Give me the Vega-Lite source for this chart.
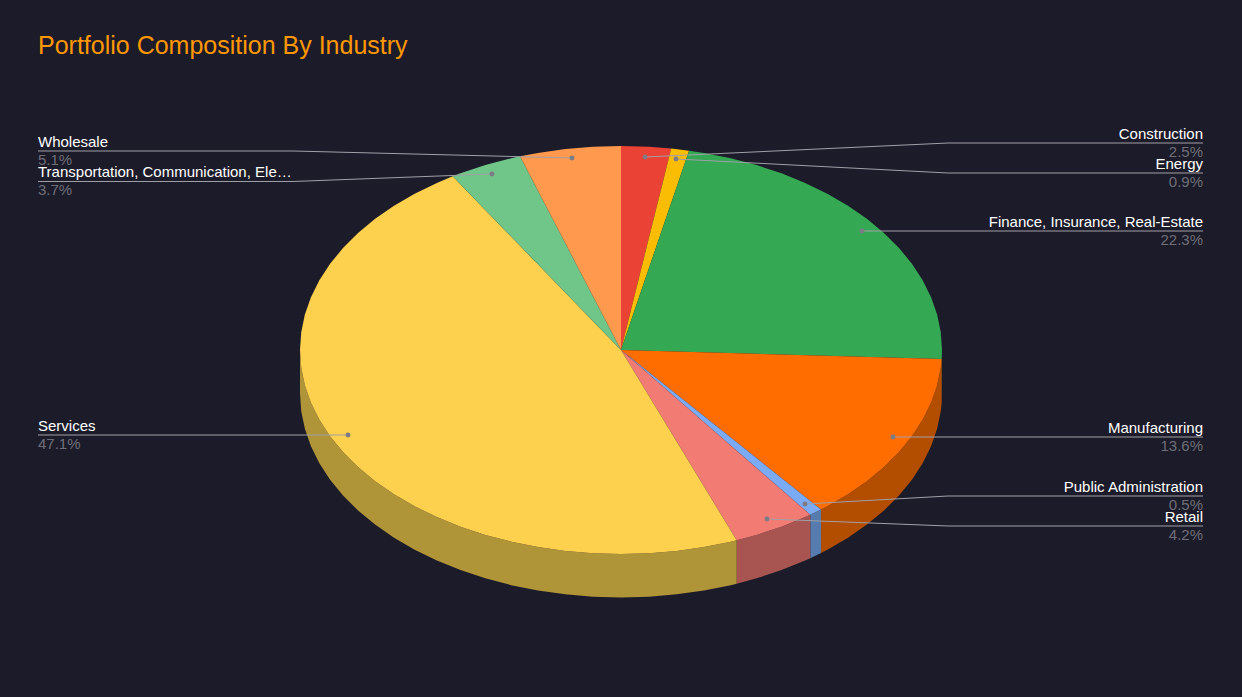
{"$schema":"https://vega.github.io/schema/vega-lite/v6.json","width":1242,"height":697,"padding":0,"autosize":"none","background":"#1c1b29","config":{"view":{"stroke":null}},"title":{"text":"Portfolio Composition By Industry","anchor":"start","frame":"group","orient":"top","offset":-79,"dx":38,"font":"Liberation Sans","fontSize":25,"fontWeight":"normal","color":"#ff9800","baseline":"alphabetic"},
"datasets":{
"tops":[
{"industry":"Construction","i":0,"x":0,"y":0},{"industry":"Construction","i":1,"x":0,"y":1},{"industry":"Construction","i":2,"x":0.0872,"y":0.9962},{"industry":"Construction","i":3,"x":0.1564,"y":0.9877},
{"industry":"Energy","i":0,"x":0,"y":0},{"industry":"Energy","i":1,"x":0.1564,"y":0.9877},{"industry":"Energy","i":2,"x":0.212,"y":0.9773},
{"industry":"Finance, Insurance, Real-Estate","i":0,"x":0,"y":0},{"industry":"Finance, Insurance, Real-Estate","i":1,"x":0.212,"y":0.9773},{"industry":"Finance, Insurance, Real-Estate","i":2,"x":0.2588,"y":0.9659},{"industry":"Finance, Insurance, Real-Estate","i":3,"x":0.342,"y":0.9397},{"industry":"Finance, Insurance, Real-Estate","i":4,"x":0.4226,"y":0.9063},{"industry":"Finance, Insurance, Real-Estate","i":5,"x":0.5,"y":0.866},{"industry":"Finance, Insurance, Real-Estate","i":6,"x":0.5736,"y":0.8192},{"industry":"Finance, Insurance, Real-Estate","i":7,"x":0.6428,"y":0.766},{"industry":"Finance, Insurance, Real-Estate","i":8,"x":0.7071,"y":0.7071},{"industry":"Finance, Insurance, Real-Estate","i":9,"x":0.766,"y":0.6428},{"industry":"Finance, Insurance, Real-Estate","i":10,"x":0.8192,"y":0.5736},{"industry":"Finance, Insurance, Real-Estate","i":11,"x":0.866,"y":0.5},{"industry":"Finance, Insurance, Real-Estate","i":12,"x":0.9063,"y":0.4226},{"industry":"Finance, Insurance, Real-Estate","i":13,"x":0.9397,"y":0.342},{"industry":"Finance, Insurance, Real-Estate","i":14,"x":0.9659,"y":0.2588},{"industry":"Finance, Insurance, Real-Estate","i":15,"x":0.9848,"y":0.1736},{"industry":"Finance, Insurance, Real-Estate","i":16,"x":0.9962,"y":0.0872},{"industry":"Finance, Insurance, Real-Estate","i":17,"x":1,"y":0},{"industry":"Finance, Insurance, Real-Estate","i":18,"x":0.999,"y":-0.044},
{"industry":"Manufacturing","i":0,"x":0,"y":0},{"industry":"Manufacturing","i":1,"x":0.999,"y":-0.044},{"industry":"Manufacturing","i":2,"x":0.9962,"y":-0.0872},{"industry":"Manufacturing","i":3,"x":0.9848,"y":-0.1736},{"industry":"Manufacturing","i":4,"x":0.9659,"y":-0.2588},{"industry":"Manufacturing","i":5,"x":0.9397,"y":-0.342},{"industry":"Manufacturing","i":6,"x":0.9063,"y":-0.4226},{"industry":"Manufacturing","i":7,"x":0.866,"y":-0.5},{"industry":"Manufacturing","i":8,"x":0.8192,"y":-0.5736},{"industry":"Manufacturing","i":9,"x":0.766,"y":-0.6428},{"industry":"Manufacturing","i":10,"x":0.7071,"y":-0.7071},{"industry":"Manufacturing","i":11,"x":0.6428,"y":-0.766},{"industry":"Manufacturing","i":12,"x":0.6231,"y":-0.7821},
{"industry":"Public Administration","i":0,"x":0,"y":0},{"industry":"Public Administration","i":1,"x":0.6231,"y":-0.7821},{"industry":"Public Administration","i":2,"x":0.5897,"y":-0.8076},
{"industry":"Retail","i":0,"x":0,"y":0},{"industry":"Retail","i":1,"x":0.5897,"y":-0.8076},{"industry":"Retail","i":2,"x":0.5736,"y":-0.8192},{"industry":"Retail","i":3,"x":0.5,"y":-0.866},{"industry":"Retail","i":4,"x":0.4226,"y":-0.9063},{"industry":"Retail","i":5,"x":0.3604,"y":-0.9328},
{"industry":"Services","i":0,"x":0,"y":0},{"industry":"Services","i":1,"x":0.3604,"y":-0.9328},{"industry":"Services","i":2,"x":0.342,"y":-0.9397},{"industry":"Services","i":3,"x":0.2588,"y":-0.9659},{"industry":"Services","i":4,"x":0.1736,"y":-0.9848},{"industry":"Services","i":5,"x":0.0872,"y":-0.9962},{"industry":"Services","i":6,"x":0,"y":-1},{"industry":"Services","i":7,"x":-0.0872,"y":-0.9962},{"industry":"Services","i":8,"x":-0.1736,"y":-0.9848},{"industry":"Services","i":9,"x":-0.2588,"y":-0.9659},{"industry":"Services","i":10,"x":-0.342,"y":-0.9397},{"industry":"Services","i":11,"x":-0.4226,"y":-0.9063},{"industry":"Services","i":12,"x":-0.5,"y":-0.866},{"industry":"Services","i":13,"x":-0.5736,"y":-0.8192},{"industry":"Services","i":14,"x":-0.6428,"y":-0.766},{"industry":"Services","i":15,"x":-0.7071,"y":-0.7071},{"industry":"Services","i":16,"x":-0.766,"y":-0.6428},{"industry":"Services","i":17,"x":-0.8192,"y":-0.5736},{"industry":"Services","i":18,"x":-0.866,"y":-0.5},{"industry":"Services","i":19,"x":-0.9063,"y":-0.4226},{"industry":"Services","i":20,"x":-0.9397,"y":-0.342},{"industry":"Services","i":21,"x":-0.9659,"y":-0.2588},{"industry":"Services","i":22,"x":-0.9848,"y":-0.1736},{"industry":"Services","i":23,"x":-0.9962,"y":-0.0872},{"industry":"Services","i":24,"x":-1,"y":0},{"industry":"Services","i":25,"x":-0.9962,"y":0.0872},{"industry":"Services","i":26,"x":-0.9848,"y":0.1736},{"industry":"Services","i":27,"x":-0.9659,"y":0.2588},{"industry":"Services","i":28,"x":-0.9397,"y":0.342},{"industry":"Services","i":29,"x":-0.9063,"y":0.4226},{"industry":"Services","i":30,"x":-0.866,"y":0.5},{"industry":"Services","i":31,"x":-0.8192,"y":0.5736},{"industry":"Services","i":32,"x":-0.766,"y":0.6428},{"industry":"Services","i":33,"x":-0.7071,"y":0.7071},{"industry":"Services","i":34,"x":-0.6428,"y":0.766},{"industry":"Services","i":35,"x":-0.5736,"y":0.8192},{"industry":"Services","i":36,"x":-0.5243,"y":0.8515},
{"industry":"Transportation, Communication, Ele…","i":0,"x":0,"y":0},{"industry":"Transportation, Communication, Ele…","i":1,"x":-0.5243,"y":0.8515},{"industry":"Transportation, Communication, Ele…","i":2,"x":-0.5,"y":0.866},{"industry":"Transportation, Communication, Ele…","i":3,"x":-0.4226,"y":0.9063},{"industry":"Transportation, Communication, Ele…","i":4,"x":-0.342,"y":0.9397},{"industry":"Transportation, Communication, Ele…","i":5,"x":-0.3146,"y":0.9492},
{"industry":"Wholesale","i":0,"x":0,"y":0},{"industry":"Wholesale","i":1,"x":-0.3146,"y":0.9492},{"industry":"Wholesale","i":2,"x":-0.2588,"y":0.9659},{"industry":"Wholesale","i":3,"x":-0.1736,"y":0.9848},{"industry":"Wholesale","i":4,"x":-0.0872,"y":0.9962},{"industry":"Wholesale","i":5,"x":0,"y":1}
],
"walls":[
{"industry":"Finance, Insurance, Real-Estate","i":0,"x":1,"y":0},{"industry":"Finance, Insurance, Real-Estate","i":1,"x":0.999,"y":-0.044},{"industry":"Finance, Insurance, Real-Estate","i":2,"x":0.999,"y":-0.257},{"industry":"Finance, Insurance, Real-Estate","i":3,"x":1,"y":-0.213},
{"industry":"Manufacturing","i":0,"x":0.999,"y":-0.044},{"industry":"Manufacturing","i":1,"x":0.9962,"y":-0.0872},{"industry":"Manufacturing","i":2,"x":0.9848,"y":-0.1736},{"industry":"Manufacturing","i":3,"x":0.9659,"y":-0.2588},{"industry":"Manufacturing","i":4,"x":0.9397,"y":-0.342},{"industry":"Manufacturing","i":5,"x":0.9063,"y":-0.4226},{"industry":"Manufacturing","i":6,"x":0.866,"y":-0.5},{"industry":"Manufacturing","i":7,"x":0.8192,"y":-0.5736},{"industry":"Manufacturing","i":8,"x":0.766,"y":-0.6428},{"industry":"Manufacturing","i":9,"x":0.7071,"y":-0.7071},{"industry":"Manufacturing","i":10,"x":0.6428,"y":-0.766},{"industry":"Manufacturing","i":11,"x":0.6231,"y":-0.7821},{"industry":"Manufacturing","i":12,"x":0.6231,"y":-0.9951},{"industry":"Manufacturing","i":13,"x":0.6428,"y":-0.979},{"industry":"Manufacturing","i":14,"x":0.7071,"y":-0.9201},{"industry":"Manufacturing","i":15,"x":0.766,"y":-0.8558},{"industry":"Manufacturing","i":16,"x":0.8192,"y":-0.7866},{"industry":"Manufacturing","i":17,"x":0.866,"y":-0.713},{"industry":"Manufacturing","i":18,"x":0.9063,"y":-0.6356},{"industry":"Manufacturing","i":19,"x":0.9397,"y":-0.555},{"industry":"Manufacturing","i":20,"x":0.9659,"y":-0.4718},{"industry":"Manufacturing","i":21,"x":0.9848,"y":-0.3866},{"industry":"Manufacturing","i":22,"x":0.9962,"y":-0.3002},{"industry":"Manufacturing","i":23,"x":0.999,"y":-0.257},
{"industry":"Public Administration","i":0,"x":0.6231,"y":-0.7821},{"industry":"Public Administration","i":1,"x":0.5897,"y":-0.8076},{"industry":"Public Administration","i":2,"x":0.5897,"y":-1.0206},{"industry":"Public Administration","i":3,"x":0.6231,"y":-0.9951},
{"industry":"Retail","i":0,"x":0.5897,"y":-0.8076},{"industry":"Retail","i":1,"x":0.5736,"y":-0.8192},{"industry":"Retail","i":2,"x":0.5,"y":-0.866},{"industry":"Retail","i":3,"x":0.4226,"y":-0.9063},{"industry":"Retail","i":4,"x":0.3604,"y":-0.9328},{"industry":"Retail","i":5,"x":0.3604,"y":-1.1458},{"industry":"Retail","i":6,"x":0.4226,"y":-1.1193},{"industry":"Retail","i":7,"x":0.5,"y":-1.079},{"industry":"Retail","i":8,"x":0.5736,"y":-1.0322},{"industry":"Retail","i":9,"x":0.5897,"y":-1.0206},
{"industry":"Services","i":0,"x":0.3604,"y":-0.9328},{"industry":"Services","i":1,"x":0.342,"y":-0.9397},{"industry":"Services","i":2,"x":0.2588,"y":-0.9659},{"industry":"Services","i":3,"x":0.1736,"y":-0.9848},{"industry":"Services","i":4,"x":0.0872,"y":-0.9962},{"industry":"Services","i":5,"x":0,"y":-1},{"industry":"Services","i":6,"x":-0.0872,"y":-0.9962},{"industry":"Services","i":7,"x":-0.1736,"y":-0.9848},{"industry":"Services","i":8,"x":-0.2588,"y":-0.9659},{"industry":"Services","i":9,"x":-0.342,"y":-0.9397},{"industry":"Services","i":10,"x":-0.4226,"y":-0.9063},{"industry":"Services","i":11,"x":-0.5,"y":-0.866},{"industry":"Services","i":12,"x":-0.5736,"y":-0.8192},{"industry":"Services","i":13,"x":-0.6428,"y":-0.766},{"industry":"Services","i":14,"x":-0.7071,"y":-0.7071},{"industry":"Services","i":15,"x":-0.766,"y":-0.6428},{"industry":"Services","i":16,"x":-0.8192,"y":-0.5736},{"industry":"Services","i":17,"x":-0.866,"y":-0.5},{"industry":"Services","i":18,"x":-0.9063,"y":-0.4226},{"industry":"Services","i":19,"x":-0.9397,"y":-0.342},{"industry":"Services","i":20,"x":-0.9659,"y":-0.2588},{"industry":"Services","i":21,"x":-0.9848,"y":-0.1736},{"industry":"Services","i":22,"x":-0.9962,"y":-0.0872},{"industry":"Services","i":23,"x":-1,"y":0},{"industry":"Services","i":24,"x":-1,"y":-0.213},{"industry":"Services","i":25,"x":-0.9962,"y":-0.3002},{"industry":"Services","i":26,"x":-0.9848,"y":-0.3866},{"industry":"Services","i":27,"x":-0.9659,"y":-0.4718},{"industry":"Services","i":28,"x":-0.9397,"y":-0.555},{"industry":"Services","i":29,"x":-0.9063,"y":-0.6356},{"industry":"Services","i":30,"x":-0.866,"y":-0.713},{"industry":"Services","i":31,"x":-0.8192,"y":-0.7866},{"industry":"Services","i":32,"x":-0.766,"y":-0.8558},{"industry":"Services","i":33,"x":-0.7071,"y":-0.9201},{"industry":"Services","i":34,"x":-0.6428,"y":-0.979},{"industry":"Services","i":35,"x":-0.5736,"y":-1.0322},{"industry":"Services","i":36,"x":-0.5,"y":-1.079},{"industry":"Services","i":37,"x":-0.4226,"y":-1.1193},{"industry":"Services","i":38,"x":-0.342,"y":-1.1527},{"industry":"Services","i":39,"x":-0.2588,"y":-1.1789},{"industry":"Services","i":40,"x":-0.1736,"y":-1.1978},{"industry":"Services","i":41,"x":-0.0872,"y":-1.2092},{"industry":"Services","i":42,"x":0,"y":-1.213},{"industry":"Services","i":43,"x":0.0872,"y":-1.2092},{"industry":"Services","i":44,"x":0.1736,"y":-1.1978},{"industry":"Services","i":45,"x":0.2588,"y":-1.1789},{"industry":"Services","i":46,"x":0.342,"y":-1.1527},{"industry":"Services","i":47,"x":0.3604,"y":-1.1458}
],
"leaders":[
{"industry":"Construction","i":0,"x":0.0748,"y":0.9461},{"industry":"Construction","i":1,"x":1.0187,"y":1.0147},{"industry":"Construction","i":2,"x":1.8131,"y":1.0147},
{"industry":"Energy","i":0,"x":0.1713,"y":0.9363},{"industry":"Energy","i":1,"x":1.0187,"y":0.8676},{"industry":"Energy","i":2,"x":1.8131,"y":0.8676},
{"industry":"Finance","i":0,"x":0.7508,"y":0.5833},{"industry":"Finance","i":1,"x":1.8131,"y":0.5833},
{"industry":"Manufacturing","i":0,"x":0.8474,"y":-0.4265},{"industry":"Manufacturing","i":1,"x":1.8131,"y":-0.4265},
{"industry":"Public Administration","i":0,"x":0.5732,"y":-0.7549},{"industry":"Public Administration","i":1,"x":1.0187,"y":-0.7157},{"industry":"Public Administration","i":2,"x":1.8131,"y":-0.7157},
{"industry":"Retail","i":0,"x":0.4548,"y":-0.8284},{"industry":"Retail","i":1,"x":1.0187,"y":-0.8627},{"industry":"Retail","i":2,"x":1.8131,"y":-0.8627},
{"industry":"Services","i":0,"x":-0.8505,"y":-0.4167},{"industry":"Services","i":1,"x":-1.8162,"y":-0.4167},
{"industry":"Transportation","i":0,"x":-0.4019,"y":0.8627},{"industry":"Transportation","i":1,"x":-1.0218,"y":0.826},{"industry":"Transportation","i":2,"x":-1.8162,"y":0.826},
{"industry":"Wholesale","i":0,"x":-0.1526,"y":0.9412},{"industry":"Wholesale","i":1,"x":-1.0218,"y":0.9755},{"industry":"Wholesale","i":2,"x":-1.8162,"y":0.9755}
],
"labels":[
{"industry":"Construction","share":0.025,"side":"right","labelX":1.8131,"labelY":1.0147,"dotX":0.0748,"dotY":0.9461},
{"industry":"Energy","share":0.009,"side":"right","labelX":1.8131,"labelY":0.8676,"dotX":0.1713,"dotY":0.9363},
{"industry":"Finance, Insurance, Real-Estate","share":0.223,"side":"right","labelX":1.8131,"labelY":0.5833,"dotX":0.7508,"dotY":0.5833},
{"industry":"Manufacturing","share":0.136,"side":"right","labelX":1.8131,"labelY":-0.4265,"dotX":0.8474,"dotY":-0.4265},
{"industry":"Public Administration","share":0.005,"side":"right","labelX":1.8131,"labelY":-0.7157,"dotX":0.5732,"dotY":-0.7549},
{"industry":"Retail","share":0.042,"side":"right","labelX":1.8131,"labelY":-0.8627,"dotX":0.4548,"dotY":-0.8284},
{"industry":"Services","share":0.471,"side":"left","labelX":-1.8162,"labelY":-0.4167,"dotX":-0.8505,"dotY":-0.4167},
{"industry":"Transportation, Communication, Ele…","share":0.037,"side":"left","labelX":-1.8162,"labelY":0.826,"dotX":-0.4019,"dotY":0.8627},
{"industry":"Wholesale","share":0.051,"side":"left","labelX":-1.8162,"labelY":0.9755,"dotX":-0.1526,"dotY":0.9412}
]},
"layer":[
{"data":{"name":"walls"},"mark":{"type":"line","filled":true,"strokeWidth":0,"interpolate":"linear"},"encoding":{"x":{"field":"x","type":"quantitative","axis":null,"scale":{"domain":[-1.9346,1.9346],"range":[0,1242],"nice":false,"zero":false}},"y":{"field":"y","type":"quantitative","axis":null,"scale":{"domain":[-1.701,1.7157],"range":[697,0],"nice":false,"zero":false}},"order":{"field":"i","type":"quantitative"},"color":{"field":"industry","type":"nominal","legend":null,"scale":{"domain":["Finance, Insurance, Real-Estate","Manufacturing","Public Administration","Retail","Services"],"range":["#258040","#b34e00","#567bae","#a85552","#b09438"]}}}},
{"data":{"name":"tops"},"mark":{"type":"line","filled":true,"strokeWidth":0,"interpolate":"linear"},"encoding":{"x":{"field":"x","type":"quantitative"},"y":{"field":"y","type":"quantitative"},"order":{"field":"i","type":"quantitative"},"color":{"field":"industry","type":"nominal","legend":null,"scale":{"domain":["Construction","Energy","Finance, Insurance, Real-Estate","Manufacturing","Public Administration","Retail","Services","Transportation, Communication, Ele…","Wholesale"],"range":["#ea4335","#fbbc04","#34a853","#ff6d00","#7baaf7","#f27b73","#fdd04d","#70c688","#ff994d"]}}}},
{"data":{"name":"leaders"},"mark":{"type":"line","stroke":"#a0a0a8","strokeWidth":1},"encoding":{"x":{"field":"x","type":"quantitative"},"y":{"field":"y","type":"quantitative"},"order":{"field":"i","type":"quantitative"},"detail":{"field":"industry"}}},
{"data":{"name":"labels"},"mark":{"type":"point","filled":true,"size":24,"color":"#7c7c86","opacity":1},"encoding":{"x":{"field":"dotX","type":"quantitative"},"y":{"field":"dotY","type":"quantitative"}}},
{"data":{"name":"labels"},"transform":[{"filter":"datum.side==='right'"}],"mark":{"type":"text","align":"right","baseline":"alphabetic","dy":-4,"font":"Liberation Sans","fontSize":15,"color":"#ffffff"},"encoding":{"x":{"field":"labelX","type":"quantitative"},"y":{"field":"labelY","type":"quantitative"},"text":{"field":"industry"}}},
{"data":{"name":"labels"},"transform":[{"filter":"datum.side==='right'"}],"mark":{"type":"text","align":"right","baseline":"alphabetic","dy":14,"font":"Liberation Sans","fontSize":15,"color":"#6e6e78"},"encoding":{"x":{"field":"labelX","type":"quantitative"},"y":{"field":"labelY","type":"quantitative"},"text":{"field":"share","type":"quantitative","format":".1%"}}},
{"data":{"name":"labels"},"transform":[{"filter":"datum.side==='left'"}],"mark":{"type":"text","align":"left","baseline":"alphabetic","dy":-4,"font":"Liberation Sans","fontSize":15,"color":"#ffffff"},"encoding":{"x":{"field":"labelX","type":"quantitative"},"y":{"field":"labelY","type":"quantitative"},"text":{"field":"industry"}}},
{"data":{"name":"labels"},"transform":[{"filter":"datum.side==='left'"}],"mark":{"type":"text","align":"left","baseline":"alphabetic","dy":14,"font":"Liberation Sans","fontSize":15,"color":"#6e6e78"},"encoding":{"x":{"field":"labelX","type":"quantitative"},"y":{"field":"labelY","type":"quantitative"},"text":{"field":"share","type":"quantitative","format":".1%"}}}
],
"resolve":{"scale":{"color":"independent"}}}
